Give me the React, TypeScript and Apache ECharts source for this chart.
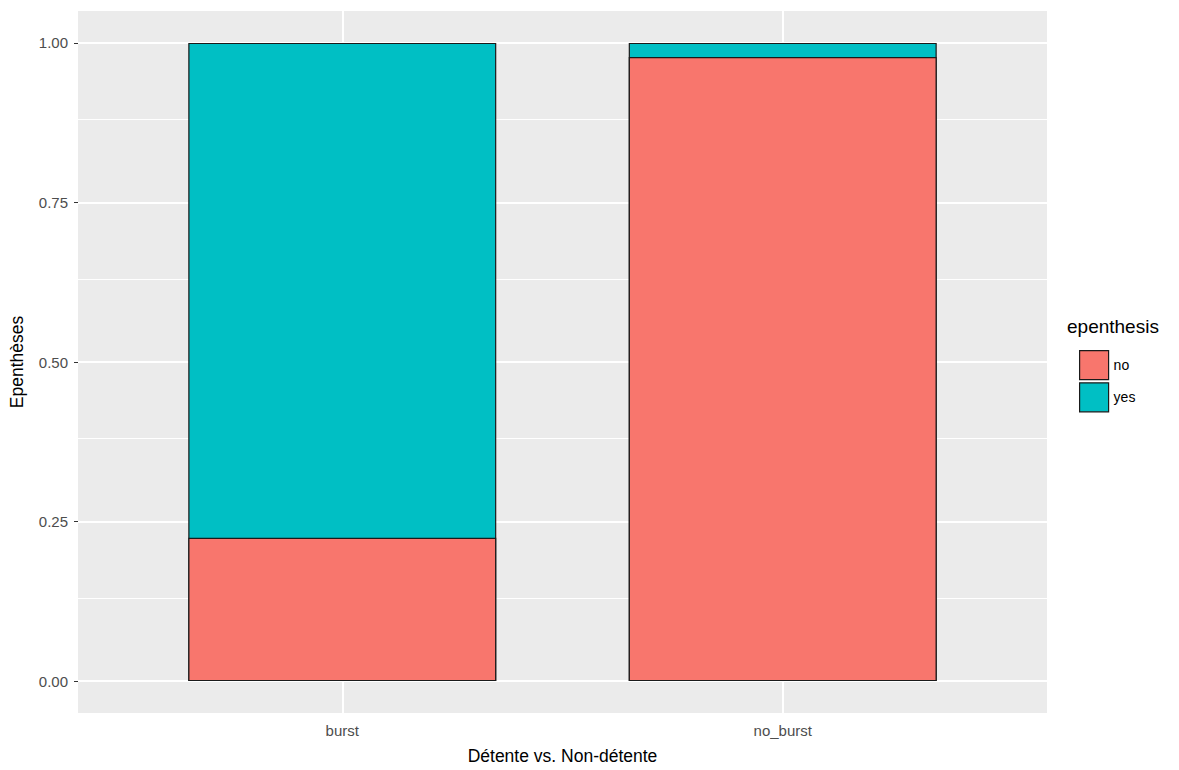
import React, { useEffect, useRef } from "react";
import * as echarts from "echarts";

const categories = ["burst", "no_burst"];
const categoryPos = [1, 2];
const noValues = [0.2245, 0.978];
const yesValues = [0.7755, 0.022];
const yTicks = [0, 0.25, 0.5, 0.75, 1.0];
const yMinor = [0.125, 0.375, 0.625, 0.875];
const legendNames = ["no", "yes"];

export default function App() {
  const ref = useRef<HTMLDivElement>(null);
  useEffect(() => {
    document.body.style.margin = "0";
    const chart = echarts.init(ref.current!, undefined, { renderer: "svg" });
    const font = "Liberation Sans, Arial, sans-serif";
    const totals = noValues.map((v, i) => v + yesValues[i]);
    const option: any = {
      animation: false,
      backgroundColor: "#ffffff",
      grid: {
        left: 78,
        right: 132,
        top: 11,
        bottom: 55,
        show: true,
        backgroundColor: "#EBEBEB",
        borderWidth: 0,
      },
      legend: {
        orient: "vertical",
        left: 1074,
        top: 345,
        itemWidth: 29,
        itemHeight: 29,
        itemGap: 2,
        icon: "rect",
        data: legendNames,
        textStyle: { fontFamily: font, fontSize: 14, color: "#000" },
        itemStyle: { borderColor: "#1a1a1a", borderWidth: 1.2 },
      },
      graphic: [
        {
          type: "text",
          left: 1067,
          top: 317,
          style: { text: "epenthesis", fontFamily: font, fontSize: 19, fill: "#000" },
        },
      ],
      xAxis: {
        type: "value",
        min: 0.4,
        max: 2.6,
        name: "Détente vs. Non-détente",
        nameLocation: "middle",
        nameGap: 34,
        nameTextStyle: { fontFamily: font, fontSize: 17.5, color: "#000" },
        axisLine: { show: false },
        splitLine: { show: false },
        axisTick: { show: true, length: 4, lineStyle: { color: "#333" }, customValues: categoryPos },
        axisLabel: {
          customValues: categoryPos,
          formatter: (v: number) => categories[categoryPos.indexOf(v)] ?? "",
          fontFamily: font,
          fontSize: 15,
          color: "#4D4D4D",
          margin: 10,
        },
      },
      yAxis: {
        type: "value",
        min: -0.05,
        max: 1.05,
        name: "Epenthèses",
        nameLocation: "middle",
        nameGap: 52,
        nameRotate: 90,
        nameTextStyle: { fontFamily: font, fontSize: 17.5, color: "#000" },
        axisLine: { show: false },
        splitLine: { show: false },
        axisTick: { show: true, length: 4, lineStyle: { color: "#333" }, customValues: yTicks },
        axisLabel: {
          customValues: yTicks,
          formatter: (v: number) => v.toFixed(2),
          fontFamily: font,
          fontSize: 15,
          color: "#4D4D4D",
          margin: 10,
        },
      },
      series: [
        {
          name: "grid",
          type: "line",
          data: [],
          z: 1,
          silent: true,
          markLine: {
            silent: true,
            z: 1,
            symbol: "none",
            label: { show: false },
            animation: false,
            data: [
              ...yMinor.map((v) => ({ yAxis: v, lineStyle: { color: "#fff", width: 1, type: "solid" } })),
              ...yTicks.map((v) => ({ yAxis: v, lineStyle: { color: "#fff", width: 2, type: "solid" } })),
              ...categoryPos.map((v) => ({ xAxis: v, lineStyle: { color: "#fff", width: 2, type: "solid" } })),
            ],
          },
        },
        {
          name: "yes",
          type: "bar",
          z: 3,
          barWidth: 308,
          barGap: "-100%",
          data: categoryPos.map((x, i) => [x, totals[i]]),
          itemStyle: { color: "#00BFC4", borderColor: "#1a1a1a", borderWidth: 1.2 },
        },
        {
          name: "no",
          type: "bar",
          z: 4,
          barWidth: 308,
          barGap: "-100%",
          data: categoryPos.map((x, i) => [x, noValues[i]]),
          itemStyle: { color: "#F8766D", borderColor: "#1a1a1a", borderWidth: 1.2 },
        },
      ],
    };
    chart.setOption(option);
    return () => chart.dispose();
  }, []);
  return <div ref={ref} style={{ position: "fixed", left: 0, top: 0, width: 1179, height: 770 }} />;
}
